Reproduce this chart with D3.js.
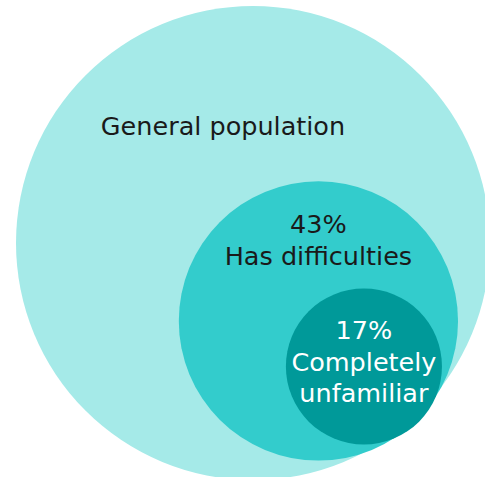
<!DOCTYPE html>
<html>
<head>
<meta charset="utf-8">
<script src="https://cdn.jsdelivr.net/npm/d3@7"></script>
<style>
  html, body { margin: 0; padding: 0; background: #fff; }
  svg { display: block; }
</style>
</head>
<body>
<div id="viz"></div>
<script>
// data
let groups = ["General population", "Has difficulties", "Completely unfamiliar"];
let shares = [100, 43, 17];
let labelLines = [
    ["General population"],
    ["43%", "Has difficulties"],
    ["17%", "Completely", "unfamiliar"]
];
let fills = ["#a5eae8", "#33cccc", "#009999"];
let textColors = ["#1a1a1a", "#1a1a1a", "#ffffff"];

let w = 485;
let h = 477;

let viz = d3.select("#viz")
    .append("svg")
    .attr("width", w)
    .attr("height", h);

// radius from share
let rScale = d3.scalePow()
    .exponent(0.627)
    .domain([0, 100])
    .range([0, 237]);

// each circle sits inside its parent, pushed toward the lower right
let angles = [0, 50, 45];
let push = 1.045;
let lineH = 31.5;
// where the first text line sits relative to circle centre
let textOffsets = [[-30, -108], [0, -87.5], [0, -27]];

let nodes = [];
shares.forEach(function (s, i) {
    let r = rScale(s);
    let cx, cy;
    if (i === 0) {
        cx = 253;
        cy = 243;
    } else {
        let p = nodes[i - 1];
        let a = angles[i] * Math.PI / 180;
        let d = (p.r - r) * push;
        cx = p.cx + d * Math.cos(a);
        cy = p.cy + d * Math.sin(a);
    }
    nodes.push({ name: groups[i], share: s, r: r, cx: cx, cy: cy, i: i });
});

viz.selectAll(".bubble")
    .data(nodes)
    .enter()
    .append("circle")
    .attr("class", "bubble")
    .attr("cx", d => d.cx)
    .attr("cy", d => d.cy)
    .attr("r", d => d.r)
    .attr("fill", d => fills[d.i]);

let labels = viz.selectAll(".label")
    .data(nodes)
    .enter()
    .append("text")
    .attr("class", "label")
    .attr("text-anchor", "middle")
    .attr("font-family", "'DejaVu Sans', sans-serif")
    .attr("font-size", 25.5)
    .attr("fill", d => textColors[d.i]);

labels.selectAll("tspan")
    .data(d => labelLines[d.i].map((t, k) => ({ t: t, k: k, node: d })))
    .enter()
    .append("tspan")
    .attr("x", d => d.node.cx + textOffsets[d.node.i][0])
    .attr("y", d => d.node.cy + textOffsets[d.node.i][1] + d.k * lineH)
    .text(d => d.t);
</script>
</body>
</html>
